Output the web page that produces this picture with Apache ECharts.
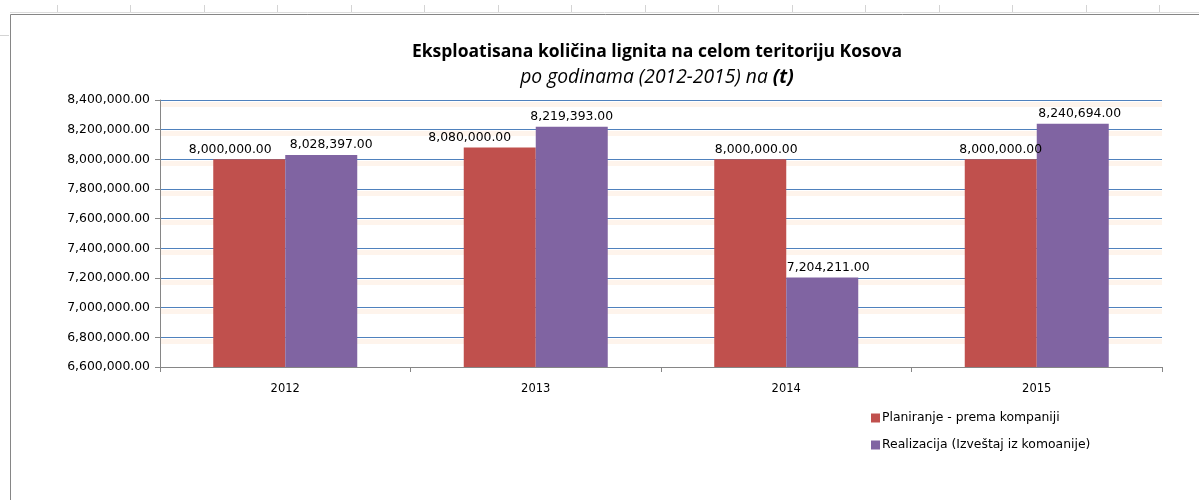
<!DOCTYPE html>
<html>
<head>
<meta charset="utf-8">
<script src="https://cdn.jsdelivr.net/npm/echarts@6/dist/echarts.min.js"></script>
<style>
  html, body { margin: 0; padding: 0; background: #fff; }
  #graph { width: 1199px; height: 500px; }
</style>
</head>
<body>
<div id="graph"></div>
<script>
// podaci
var years = ['2012', '2013', '2014', '2015'];
var planiranje = [8000000, 8080000, 8000000, 8000000];
var realizacija = [8028397, 8219393, 7204211, 8240694];
var seriesNames = ['Planiranje - prema kompaniji', 'Realizacija (Izveštaj iz komoanije)'];

function fmt(v) {
    return Number(v).toLocaleString('en-US', { minimumFractionDigits: 2, maximumFractionDigits: 2 });
}

var myChart = echarts.init(document.getElementById('graph'));

// okvir grafikona i linije kolona (Excel)
var deco = [
    { type: 'line', shape: { x1: 10, y1: 12.5, x2: 1199, y2: 12.5 }, style: { stroke: '#dcdcdc', lineWidth: 1 } },
    { type: 'rect', shape: { x: 10.5, y: 14.5, width: 1300, height: 600 }, style: { fill: 'none', stroke: '#868686', lineWidth: 1 } }
];
for (var i = 0; i < 16; i++) {
    var cx = Math.round(57 + i * 73.47) + 0.5;
    deco.push({ type: 'line', shape: { x1: cx, y1: 5, x2: cx, y2: 12 }, style: { stroke: '#d4d4d4', lineWidth: 1 } });
}
deco.push({ type: 'line', shape: { x1: 0, y1: 35.5, x2: 9, y2: 35.5 }, style: { stroke: '#d4d4d4', lineWidth: 1 } });

// Excel pomera oznake da se ne preklapaju
var shiftPlan = [-19, -30, 6, 0];
var shiftReal = [10, 0, 6, 7];

function withLabels(values, shifts) {
    return values.map(function (v, i) {
        return { value: v, label: { offset: [shifts[i], 0] } };
    });
}

var labelStyle = {
    show: true,
    position: 'top',
    distance: 4,
    color: '#000',
    fontFamily: 'DejaVu Sans',
    fontSize: 12.4,
    formatter: function (p) { return fmt(p.value); }
};

var yBase = {
    type: 'value',
    min: 6600000,
    max: 8400000,
    interval: 200000
};

var option = {
    animation: false,
    graphic: deco,
    title: {
        left: 652,
        textAlign: 'center',
        top: 38,
        text: 'Eksploatisana količina lignita na celom teritoriju Kosova',
        subtext: '{i|po godinama (2012-2015) na }{b|(t)}',
        itemGap: 7,
        textStyle: {
            fontFamily: 'Open Sans',
            fontSize: 17.5,
            fontWeight: 'bold',
            color: '#000'
        },
        subtextStyle: {
            rich: {
                i: { fontFamily: 'Open Sans', fontSize: 19.3, fontStyle: 'italic', color: '#000' },
                b: { fontFamily: 'Open Sans', fontSize: 19.3, fontStyle: 'italic', fontWeight: 'bold', color: '#000' }
            }
        }
    },
    grid: [
        { left: 160, right: 37, top: 100, bottom: 133 },
        // senka ispod linija mreže
        { left: 161, right: 37, top: 104, bottom: 129 }
    ],
    legend: {
        orient: 'vertical',
        left: 866,
        top: 407,
        itemWidth: 9,
        itemHeight: 9,
        itemGap: 15,
        icon: 'rect',
        textStyle: {
            fontFamily: 'DejaVu Sans',
            fontSize: 12.4,
            color: '#000',
            padding: [0, 0, 0, -3]
        },
        data: seriesNames
    },
    xAxis: [
        {
            type: 'category',
            data: years,
            gridIndex: 0,
            z: 5,
            axisLine: { show: true, lineStyle: { color: '#868686', width: 1 } },
            axisTick: { show: true, length: 5, lineStyle: { color: '#868686' } },
            axisLabel: {
                color: '#000',
                fontFamily: 'DejaVu Sans',
                fontSize: 11.5,
                margin: 16
            }
        },
        {
            type: 'category',
            data: years,
            gridIndex: 1,
            show: false
        }
    ],
    yAxis: [
        Object.assign({}, yBase, {
            gridIndex: 0,
            z: 3,
            axisLine: { show: true, lineStyle: { color: '#868686', width: 1 } },
            axisTick: { show: true, length: 5, lineStyle: { color: '#868686' } },
            axisLabel: {
                color: '#000',
                fontFamily: 'DejaVu Sans',
                fontSize: 12.4,
                margin: 10,
                formatter: fmt
            },
            splitLine: {
                show: true,
                lineStyle: { color: '#4f81bd', width: 1 }
            }
        }),
        Object.assign({}, yBase, {
            gridIndex: 1,
            z: 1,
            axisLine: { show: false },
            axisTick: { show: false },
            axisLabel: { show: false },
            splitLine: {
                show: true,
                showMinLine: false,
                lineStyle: { color: 'rgba(252,215,185,0.28)', width: 5 }
            }
        })
    ],
    series: [
        {
            name: seriesNames[0],
            type: 'bar',
            xAxisIndex: 0,
            yAxisIndex: 0,
            z: 4,
            barWidth: 72,
            barGap: '0%',
            itemStyle: { color: '#c0504d' },
            label: labelStyle,
            data: withLabels(planiranje, shiftPlan)
        },
        {
            name: seriesNames[1],
            type: 'bar',
            xAxisIndex: 0,
            yAxisIndex: 0,
            z: 4,
            barWidth: 72,
            barGap: '0%',
            itemStyle: { color: '#8064a2' },
            label: labelStyle,
            data: withLabels(realizacija, shiftReal)
        }
    ]
};

myChart.setOption(option);
</script>
</body>
</html>
